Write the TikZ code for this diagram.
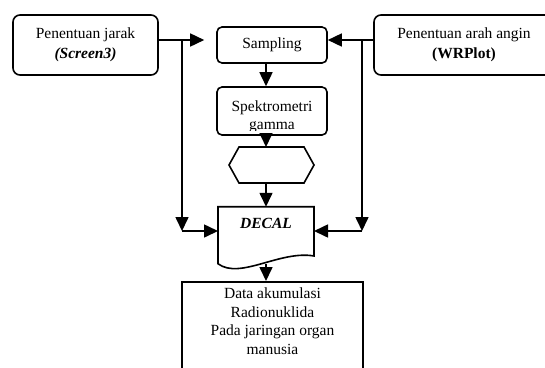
\documentclass[tikz,border=0pt]{standalone}
\usepackage{fontspec}
\setmainfont{Liberation Serif}
\usepackage{tikz}
\usetikzlibrary{arrows.meta,positioning}
\definecolor{dcink}{HTML}{000000}
\tikzset{
  dcbox/.style={draw=dcink, line width=1.6bp, rounded corners=7bp, align=center,
                font=\fontsize{15.5bp}{20bp}\selectfont, inner sep=0pt},
  dcstep/.style={dcbox, rounded corners=5bp, minimum width=110bp},
  dcshape/.style={inner sep=0pt, outer sep=0pt},
  dcline/.style={draw=dcink, line width=1.6bp},
  dclabel/.style={font=\fontsize{15.5bp}{18.5bp}\selectfont, align=center,
                  inner sep=0pt},
  dcedge/.style={-{Triangle[length=14bp,width=13bp]}, draw=dcink, line width=1.6bp},
}
\begin{document}
\begin{tikzpicture}[x=1bp,y=-1bp]
  \useasboundingbox (0,0) rectangle (545,367);
  \clip (0,0) rectangle (545,367);
  \node[dcbox, minimum width=145bp, minimum height=60bp] (jarak) at (85.5,45)
    {Penentuan jarak\\\textbf{\textit{(Screen3)}}};
  \node[dcbox, minimum width=180bp, minimum height=60bp] (arah) at (464,45)
    {Penentuan arah angin\\\textbf{(WRPlot)}};
  \node[dcstep, minimum height=36bp] (sampling) at (272,45) {Sampling};
  \node[dcstep, minimum height=48bp] (spektro) at (272,111) {};
  \begin{scope}
    \clip (210,90) rectangle (335,130.5);
    \node[dclabel] (spektrotxt) at (272,117) {Spektrometri\\gamma};
  \end{scope}
  \node[dcshape, minimum width=85bp, minimum height=36bp] (hexa) at (271.5,165) {};
  \draw[dcline] (hexa.west) -- ([xshift=10bp]hexa.north west)
    -- ([xshift=-10bp]hexa.north east) -- (hexa.east)
    -- ([xshift=-10bp]hexa.south east) -- ([xshift=10bp]hexa.south west) -- cycle;
  \node[dcshape, minimum width=96bp, minimum height=57bp] (decal) at (266,235.25) {};
  \draw[dcline] (decal.north west) -- (decal.north east) -- (314,256)
    .. controls (280,250) and (240,280) .. (decal.south west) -- cycle;
  \node[dclabel] (decaltxt) at (266,223.5) {\textbf{\textit{DECAL}}};
  \node[dcbox, rounded corners=0pt, minimum width=181bp, minimum height=110bp,
        anchor=north] (data) at (272.5,281) {};
  \node[dclabel] (datatxt) at (272.5,321)
    {Data akumulasi\\Radionuklida\\Pada jaringan organ\\manusia};
  \coordinate (axis) at (266,0);
  \coordinate (ltop) at (182,40);
  \coordinate (lbot) at (182,231);
  \coordinate (rtop) at (362,40);
  \coordinate (rbot) at (362,231);
  \draw[dcedge, shorten >=12bp] (jarak.east |- ltop) -- (sampling.west |- ltop);
  \draw[dcedge] (arah.west |- rtop) -- (sampling.east |- rtop);
  \draw[dcedge] (ltop) -- (lbot);
  \draw[dcedge] (rtop) -- (rbot);
  \draw[dcedge] (lbot) -- (decal.west |- lbot);
  \draw[dcedge] (rbot) -- (decal.east |- rbot);
  \draw[dcedge] (sampling.south -| axis) -- (spektro.north -| axis);
  \draw[dcedge] (spektro.south -| axis) -- (hexa.north -| axis);
  \draw[dcedge] (hexa.south -| axis) -- (decal.north -| axis);
  \draw[dcedge] (decal.south -| axis) -- (data.north -| axis);
\end{tikzpicture}
\end{document}
